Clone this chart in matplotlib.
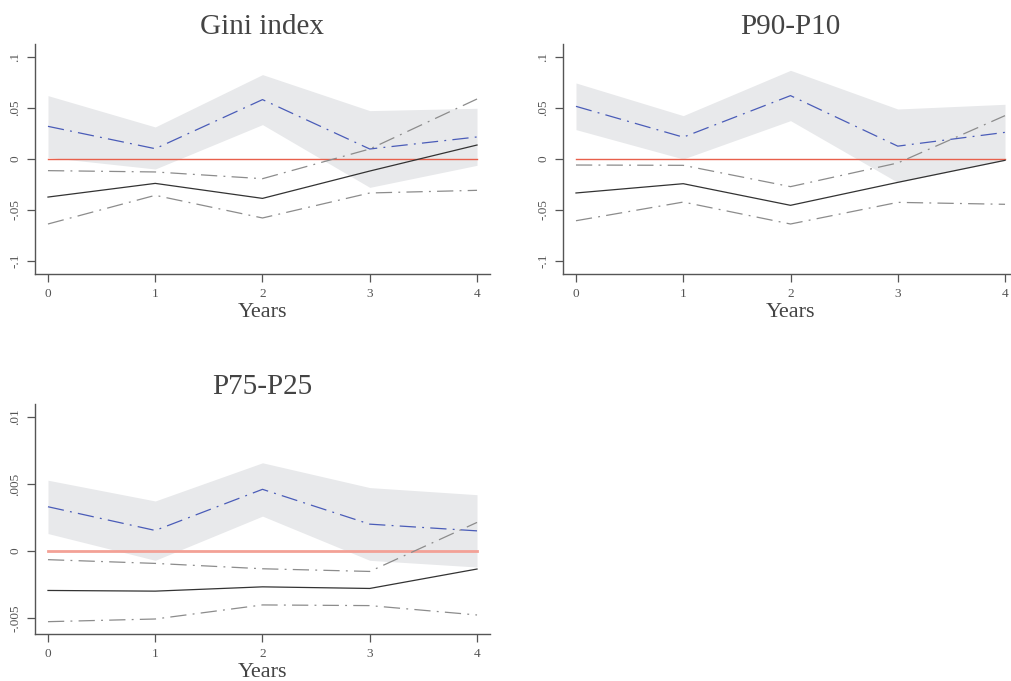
import matplotlib
matplotlib.use("Agg")
import matplotlib.pyplot as plt

plt.rcParams['font.family'] = ['Liberation Serif', 'DejaVu Serif']

years = [0, 1, 2, 3, 4]
x_ticklabels = ['0', '1', '2', '3', '4']

titles = ['Gini index', 'P90-P10', 'P75-P25']

# Panel: Gini index
gini_hi = [0.0621, 0.0314, 0.0827, 0.0474, 0.0497]
gini_lo = [0.0016, -0.0098, 0.0337, -0.0278, -0.0062]
gini_blue = [0.0320, 0.0101, 0.0582, 0.0098, 0.0216]
gini_g_up = [-0.0114, -0.0127, -0.0193, 0.0098, 0.0588]
gini_black = [-0.0373, -0.0239, -0.0386, -0.0118, 0.0137]
gini_g_lo = [-0.0637, -0.0356, -0.0578, -0.0333, -0.0307]

# Panel: P90-P10
p9010_hi = [0.0745, 0.0425, 0.0869, 0.0490, 0.0536]
p9010_lo = [0.0288, 0.0000, 0.0376, -0.0229, -0.0013]
p9010_blue = [0.0516, 0.0214, 0.0621, 0.0126, 0.0261]
p9010_g_up = [-0.0059, -0.0062, -0.0271, -0.0039, 0.0425]
p9010_black = [-0.0333, -0.0242, -0.0454, -0.0229, -0.0013]
p9010_g_lo = [-0.0605, -0.0422, -0.0637, -0.0425, -0.0444]

# Panel: P75-P25
p7525_hi = [0.00528, 0.00373, 0.00658, 0.00473, 0.00420]
p7525_lo = [0.00130, -0.00070, 0.00260, -0.00070, -0.00120]
p7525_blue = [0.00330, 0.00153, 0.00460, 0.00200, 0.00150]
p7525_g_up = [-0.00065, -0.00093, -0.00133, -0.00153, 0.00213]
p7525_black = [-0.00295, -0.00300, -0.00268, -0.00280, -0.00135]
p7525_g_lo = [-0.00528, -0.00508, -0.00403, -0.00408, -0.00478]

yt_big = [-0.1, -0.05, 0, 0.05, 0.1]
yt_big_labels = ['-.1', '-.05', '0', '.05', '.1']
yt_small = [-0.005, 0, 0.005, 0.01]
yt_small_labels = ['-.005', '0', '.005', '.01']

panels = [
    dict(title=titles[0], hi=gini_hi, lo=gini_lo, blue=gini_blue, gup=gini_g_up,
         black=gini_black, glo=gini_g_lo, yt=yt_big, ytl=yt_big_labels,
         ylim=(-0.1127, 0.1127), pos=[35, 44], zero=('#e8604c', 1.0)),
    dict(title=titles[1], hi=p9010_hi, lo=p9010_lo, blue=p9010_blue, gup=p9010_g_up,
         black=p9010_black, glo=p9010_g_lo, yt=yt_big, ytl=yt_big_labels,
         ylim=(-0.1127, 0.1127), pos=[563, 44], zero=('#e8604c', 1.0)),
    dict(title=titles[2], hi=p7525_hi, lo=p7525_lo, blue=p7525_blue, gup=p7525_g_up,
         black=p7525_black, glo=p7525_g_lo, yt=yt_small, ytl=yt_small_labels,
         ylim=(-0.0062, 0.01097), pos=[35, 404], zero=('#f3a196', 2.0)),
]

W, H = 1011, 681
fig = plt.figure(figsize=(W / 100, H / 100), dpi=100)
fig.patch.set_facecolor('white')

aw, ah = 455, 230
txt = '#444444'
dashdot = (13, 5, 1.5, 5)

for p in panels:
    left, top = p['pos']
    ax = fig.add_axes([left / W, 1 - (top + ah) / H, aw / W, ah / H])
    ax.fill_between(years, p['lo'], p['hi'], color='#e8e9eb', lw=0, zorder=1)
    c, lw = p['zero']
    ax.plot([years[0], years[-1]], [0, 0], color=c, lw=lw, zorder=2)
    l, = ax.plot(years, p['blue'], color='#4a5cb8', lw=0.9, zorder=3)
    l.set_dashes(dashdot)
    l, = ax.plot(years, p['gup'], color='#8c8c8c', lw=0.9, zorder=3)
    l.set_dashes(dashdot)
    l, = ax.plot(years, p['glo'], color='#8c8c8c', lw=0.9, zorder=3)
    l.set_dashes(dashdot)
    ax.plot(years, p['black'], color='#333333', lw=0.9, zorder=3)

    ax.set_xlim(-0.121, 4.121)
    ax.set_ylim(*p['ylim'])
    ax.set_xticks(years)
    ax.set_xticklabels(x_ticklabels)
    ax.set_yticks(p['yt'])
    ax.set_yticklabels(p['ytl'], rotation=90, va='center')
    for s in ['top', 'right']:
        ax.spines[s].set_visible(False)
    for s in ['left', 'bottom']:
        ax.spines[s].set_color('#555555')
        ax.spines[s].set_linewidth(1.0)
    ax.tick_params(axis='both', direction='out', length=5.5, width=0.9,
                   color='#555555', labelsize=9.5, labelcolor='#555555', pad=4.5)
    ax.set_title(p['title'], fontsize=21, color=txt, pad=7)
    ax.set_xlabel('Years', fontsize=16, color=txt, labelpad=2)

fig.savefig('out.png', dpi=100, facecolor='white')
